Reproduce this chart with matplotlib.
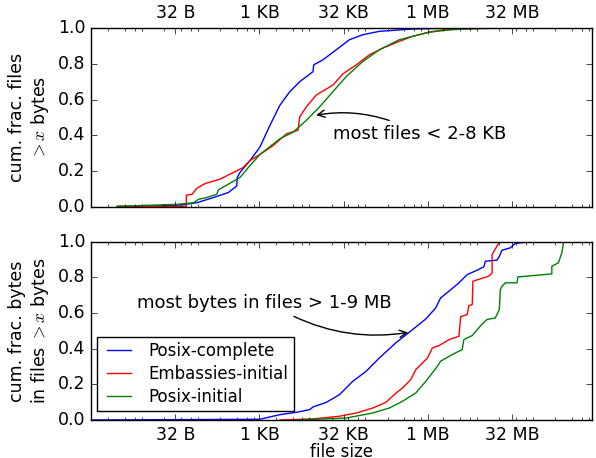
import numpy as np
import matplotlib
matplotlib.use("Agg")
import matplotlib.pyplot as plt
from matplotlib.ticker import LogLocator, NullFormatter

# sizes are given as log2(bytes)
files_complete_lx = [1.55, 5.30, 6.28, 7.27, 8.15, 8.65, 8.68, 8.84, 9.43, 10.02, 10.62, 11.21,
                     11.80, 12.39, 13.18, 13.22, 13.77, 14.56, 15.34, 16.13, 17.12, 19.09, 21.06, 23.0]
files_complete_y = [0.0, 0.011, 0.024, 0.053, 0.081, 0.118, 0.165, 0.193, 0.259, 0.334, 0.456, 0.568,
                    0.644, 0.700, 0.756, 0.794, 0.822, 0.878, 0.934, 0.962, 0.981, 0.994, 0.998, 1.0]

files_emb_lx = [1.55, 5.65, 5.65, 5.99, 6.28, 6.77, 7.66, 8.45, 9.04, 9.43, 10.02, 10.81, 11.60, 12.29,
                12.39, 12.78, 13.37, 14.36, 14.95, 15.74, 16.53, 17.32, 18.30, 19.09, 20.08, 21.06, 23.03]
files_emb_y = [0.004, 0.004, 0.066, 0.071, 0.105, 0.131, 0.156, 0.193, 0.221, 0.259, 0.293, 0.343, 0.409,
               0.428, 0.503, 0.559, 0.625, 0.681, 0.743, 0.793, 0.850, 0.887, 0.925, 0.953, 0.977, 0.991, 0.998]

files_init_lx = [1.55, 5.10, 6.08, 6.38, 6.87, 7.46, 7.56, 8.05, 8.84, 9.43, 10.02, 11.21, 12.00,
                 12.78, 13.18, 13.57, 14.36, 15.15, 16.13, 17.12, 18.30, 20.08, 21.06, 22.04, 24.01]
files_init_y = [0.004, 0.015, 0.024, 0.043, 0.053, 0.071, 0.096, 0.122, 0.165, 0.231, 0.293, 0.381, 0.418,
                0.484, 0.522, 0.559, 0.644, 0.728, 0.812, 0.878, 0.934, 0.976, 0.987, 0.994, 0.998]

bytes_complete_lx = [0.0, 10.02, 11.21, 12.19, 12.98, 13.18, 13.97, 14.75, 15.54, 16.33, 17.12, 18.10,
                     19.09, 19.88, 20.47, 20.76, 21.26, 21.85, 22.34, 23.03, 23.33, 23.42, 24.11, 24.25,
                     24.41, 24.90, 25.20, 25.79]
bytes_complete_y = [0.0, 0.004, 0.030, 0.043, 0.058, 0.073, 0.099, 0.142, 0.217, 0.273, 0.348, 0.433,
                    0.507, 0.567, 0.629, 0.685, 0.723, 0.770, 0.816, 0.845, 0.860, 0.891, 0.897, 0.919,
                    0.953, 0.966, 0.991, 0.998]

bytes_emb_lx = [11.21, 13.18, 14.75, 15.74, 16.72, 17.51, 18.00, 18.50, 18.99, 19.29, 19.68, 19.98, 20.27,
                20.67, 21.26, 21.85, 21.95, 22.34, 22.44, 22.64, 22.68, 23.62, 23.82, 23.82, 24.11, 24.25]
bytes_emb_y = [0.0, 0.006, 0.021, 0.039, 0.067, 0.099, 0.142, 0.180, 0.227, 0.283, 0.320, 0.348, 0.404,
               0.418, 0.451, 0.470, 0.579, 0.592, 0.642, 0.648, 0.779, 0.807, 0.826, 0.929, 0.976, 0.998]

bytes_init_lx = [12.19, 15.15, 16.72, 17.71, 18.50, 19.29, 19.88, 20.57, 20.76, 21.45, 22.04, 22.14,
                 22.64, 23.03, 23.23, 23.52, 24.01, 24.25, 24.31, 24.41, 24.61, 25.30, 25.36, 27.37,
                 27.37, 27.76, 27.96, 28.06, 28.09]
bytes_init_y = [0.0, 0.011, 0.039, 0.067, 0.105, 0.152, 0.217, 0.301, 0.330, 0.367, 0.395, 0.451,
                0.474, 0.517, 0.539, 0.564, 0.573, 0.620, 0.732, 0.751, 0.770, 0.770, 0.803, 0.820,
                0.863, 0.882, 0.938, 0.994, 1.0]

tick_exp = [5, 10, 15, 20, 25]
tick_labels = ["32 B", "1 KB", "32 KB", "1 MB", "32 MB"]
labels = ["Posix-complete", "Embassies-initial", "Posix-initial"]
colors = ["b", "r", "g"]

plt.style.use("classic")
plt.rcParams["font.size"] = 12.5

fig = plt.figure(figsize=(5.96, 4.58), facecolor="white")
ax1 = fig.add_axes([0.153, 0.548, 0.840, 0.391])
ax2 = fig.add_axes([0.153, 0.083, 0.840, 0.389])

top = [(files_complete_lx, files_complete_y), (files_emb_lx, files_emb_y), (files_init_lx, files_init_y)]
bot = [(bytes_complete_lx, bytes_complete_y), (bytes_emb_lx, bytes_emb_y), (bytes_init_lx, bytes_init_y)]
for (lx, y), c, lab in zip(top, colors, labels):
    ax1.plot(2.0 ** np.array(lx), y, c, label=lab)
for (lx, y), c, lab in zip(bot, colors, labels):
    ax2.plot(2.0 ** np.array(lx), y, c, label=lab)

for ax in (ax1, ax2):
    ax.set_xscale("log")
    ax.set_xlim(1, 9e8)
    ax.set_ylim(0, 1)
    ax.set_xticks([2.0 ** e for e in tick_exp])
    ax.set_xticklabels(tick_labels)
    ax.xaxis.set_minor_locator(LogLocator(base=10, subs=(2, 4, 6, 8), numticks=50))
    ax.xaxis.set_minor_formatter(NullFormatter())
    ax.set_yticks(np.arange(0, 1.01, 0.2))

ax1.tick_params(axis="x", which="both", bottom=True, top=True, labelbottom=False, labeltop=True)
ax1.set_ylabel("cum. frac. files\n$>x$ bytes", multialignment="center")
ax2.set_ylabel("cum. frac. bytes\nin files $>x$ bytes", multialignment="center")
ax2.set_xlabel("file size", labelpad=-0.5, fontsize=12)

ax1.annotate("most files < 2-8 KB", xy=(2.0 ** 13.2, 0.51), xytext=(2.0 ** 19.5, 0.41),
             ha="center", va="center", fontsize=13,
             arrowprops=dict(arrowstyle="->", connectionstyle="arc3,rad=0.15",
                             relpos=(0.39, 1.0), color="k"))
ax2.annotate("most bytes in files > 1-9 MB", xy=(2.0 ** 19.0, 0.494), xytext=(2.0 ** 10.3, 0.657),
             ha="center", va="center", fontsize=13,
             arrowprops=dict(arrowstyle="->", connectionstyle="arc3,rad=0.17",
                             relpos=(0.58, 0.0), color="k"))

ax2.legend(loc="lower left", bbox_to_anchor=(0.012, 0.05), borderaxespad=0,
           fontsize=12, labelspacing=0.3, borderpad=0.3)

fig.savefig("out.png", dpi=100, facecolor="white")
